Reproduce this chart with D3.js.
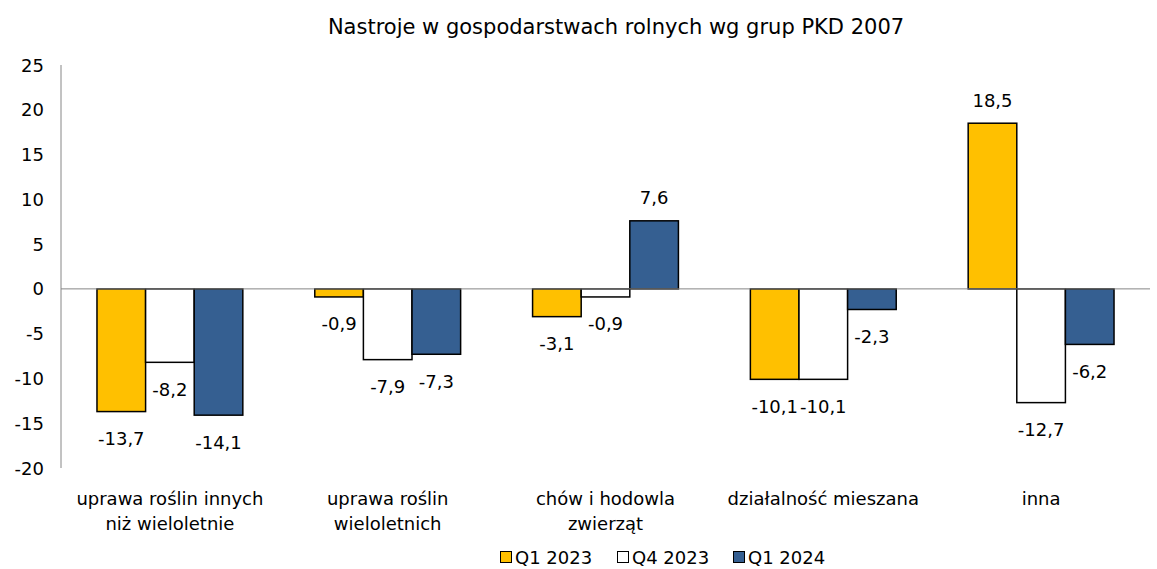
<!DOCTYPE html>
<html>
<head>
<meta charset="utf-8">
<style>
  body { margin: 0; background: #fff; }
  svg { font-family: "DejaVu Sans", Verdana, sans-serif; }
  .bar { stroke: #000; stroke-width: 1.5; }
  .lbl { font-size: 18px; fill: #000; }
  .title { font-size: 21px; fill: #000; }
  .cat { font-size: 18px; fill: #000; }
  .legtxt { font-size: 18px; fill: #000; }
</style>
<script src="https://d3js.org/d3.v7.min.js"></script>
</head>
<body>
<svg width="1157" height="569"></svg>
<script>
  const categories = [
    ['uprawa roślin innych', 'niż wieloletnie'],
    ['uprawa roślin', 'wieloletnich'],
    ['chów i hodowla', 'zwierząt'],
    ['działalność mieszana'],
    ['inna']
  ];
  const seriesNames = ['Q1 2023', 'Q4 2023', 'Q1 2024'];
  const q1_2023 = [-13.7, -0.9, -3.1, -10.1, 18.5];
  const q4_2023 = [-8.2, -7.9, -0.9, -10.1, -12.7];
  const q1_2024 = [-14.1, -7.3, 7.6, -2.3, -6.2];
  const yTicks = [25, 20, 15, 10, 5, 0, -5, -10, -15, -20];
  const colors = ['#FFC000', '#FFFFFF', '#355F91'];

  const series = [q1_2023, q4_2023, q1_2024];
  const svg = d3.select('svg');
  const plotL = 61, plotR = 1150, plotT = 65, plotB = 468;

  const x0 = d3.scaleBand()
    .domain(d3.range(categories.length))
    .range([plotL, plotR]);
  const x1 = d3.scaleBand()
    .domain(d3.range(series.length))
    .range([0, x0.bandwidth()])
    .paddingInner(0)
    .paddingOuter(0.74);
  const y = d3.scaleLinear().domain([-20, 25]).range([plotB, plotT]);

  // title
  svg.append('text')
    .attr('x', 616).attr('y', 34)
    .attr('text-anchor', 'middle')
    .attr('class', 'title')
    .text('Nastroje w gospodarstwach rolnych wg grup PKD 2007');

  // y axis labels
  svg.selectAll('.ytick')
    .data(yTicks)
    .enter()
    .append('text')
    .attr('class', 'lbl')
    .attr('x', 44)
    .attr('y', d => y(d) + 6.5)
    .attr('text-anchor', 'end')
    .text(d => d);

  // bars
  series.forEach((vals, s) => {
    svg.selectAll('.bar-s' + s)
      .data(vals)
      .enter()
      .append('rect')
      .attr('class', 'bar')
      .attr('x', (d, i) => x0(i) + x1(s))
      .attr('width', x1.bandwidth())
      .attr('y', d => y(Math.max(0, d)))
      .attr('height', d => Math.abs(y(d) - y(0)))
      .attr('fill', colors[s]);

    svg.selectAll('.val-s' + s)
      .data(vals)
      .enter()
      .append('text')
      .attr('class', 'lbl')
      .attr('text-anchor', 'middle')
      .attr('x', (d, i) => x0(i) + x1(s) + x1.bandwidth() / 2)
      .attr('y', d => d < 0 ? y(d) + 33.5 : y(d) - 16.5)
      .text(d => d3.format('.1f')(d).replace('.', ',').replace('−', '-'));
  });

  // axis lines
  svg.append('line')
    .attr('x1', plotL).attr('x2', plotR)
    .attr('y1', y(0)).attr('y2', y(0))
    .attr('stroke', '#868686').attr('stroke-width', 1);
  svg.append('line')
    .attr('x1', plotL).attr('x2', plotL)
    .attr('y1', plotT).attr('y2', plotB)
    .attr('stroke', '#868686').attr('stroke-width', 1);

  // category labels
  const cat = svg.selectAll('.catlbl')
    .data(categories)
    .enter()
    .append('text')
    .attr('class', 'cat')
    .attr('text-anchor', 'middle')
    .attr('x', (d, i) => x0(i) + x0.bandwidth() / 2)
    .attr('y', 505);
  cat.selectAll('tspan')
    .data(d => d)
    .enter()
    .append('tspan')
    .attr('x', function () { return d3.select(this.parentNode).attr('x'); })
    .attr('dy', (d, i) => i === 0 ? 0 : 25)
    .text(d => d);

  // legend
  const legX = [500, 617, 733];
  const leg = svg.selectAll('.leg')
    .data(seriesNames)
    .enter()
    .append('g')
    .attr('transform', (d, i) => `translate(${legX[i]},557)`);
  leg.append('rect')
    .attr('x', 0.5).attr('y', -5.5)
    .attr('width', 11).attr('height', 11)
    .attr('fill', (d, i) => colors[i])
    .attr('stroke', '#000').attr('stroke-width', 1);
  leg.append('text')
    .attr('class', 'legtxt')
    .attr('x', 15).attr('y', 7)
    .text(d => d);
</script>
</body>
</html>
